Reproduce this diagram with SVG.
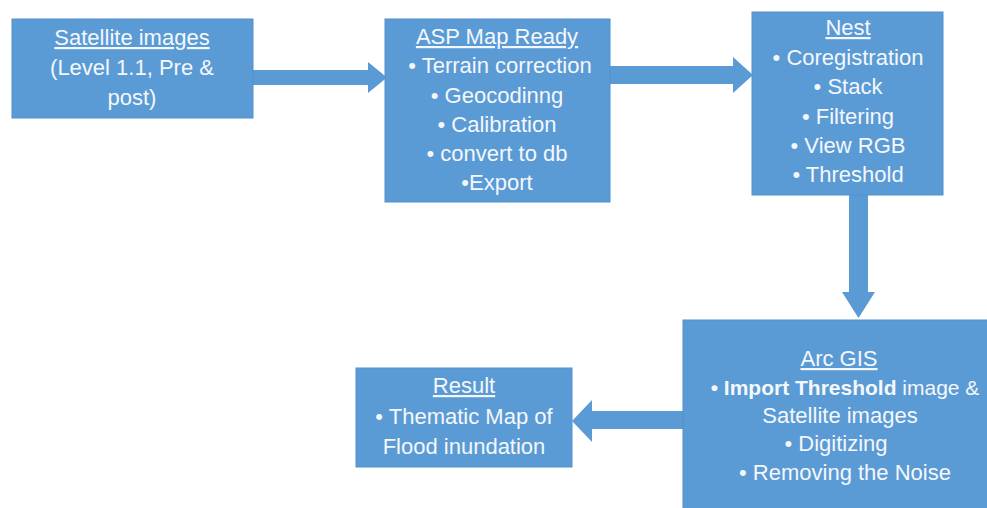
<svg xmlns="http://www.w3.org/2000/svg" width="987" height="508" viewBox="0 0 987 508">
<style>
.box{fill:#5b9bd5;stroke:#5290cc;stroke-width:1}
.arr{fill:#5b9bd5}
text{font-family:"Liberation Sans",Arial,sans-serif;font-size:22px;fill:#f4f7fb;text-anchor:middle}
.u{text-decoration:underline}
.b{font-weight:bold}
</style>
<rect width="987" height="508" fill="#ffffff"/>
<g id="connectors">
<polygon class="arr" points="253,70 368,70 368,62 387,77.5 368,93 368,85 253,85"/>
<polygon class="arr" points="610,66 733,66 733,57 753,75 733,93 733,84 610,84"/>
<polygon class="arr" points="849,195 868,195 868,292 875,292 858.5,318 842,292 849,292"/>
<polygon class="arr" points="683,411 592,411 592,400 572,421 592,442 592,429 683,429"/>
</g>
<g id="satellite">
<rect class="box" x="12" y="19" width="241" height="99"/>
<text x="132" y="45"><tspan class="u">Satellite images</tspan></text>
<text x="132" y="75">(Level 1.1, Pre &amp;</text>
<text x="132" y="105">post)</text>
</g>
<g id="asp">
<rect class="box" x="385" y="19" width="225" height="183"/>
<text x="497" y="44"><tspan class="u">ASP Map Ready</tspan></text>
<text x="500" y="73">• Terrain correction</text>
<text x="497" y="103">• Geocodinng</text>
<text x="497" y="132">• Calibration</text>
<text x="497" y="161">• convert to db</text>
<text x="497" y="190">•Export</text>
</g>
<g id="nest">
<rect class="box" x="752" y="12" width="191" height="183"/>
<text x="848" y="35"><tspan class="u">Nest</tspan></text>
<text x="848" y="65">• Coregistration</text>
<text x="848" y="94">• Stack</text>
<text x="848" y="124">• Filtering</text>
<text x="848" y="153">• View RGB</text>
<text x="848" y="182">• Threshold</text>
</g>
<g id="arcgis">
<rect class="box" x="683" y="320" width="310" height="195"/>
<text x="839" y="366"><tspan class="u">Arc GIS</tspan></text>
<text x="845" y="395" style="font-size:21px"><tspan class="b">• Import Threshold</tspan> image &amp;</text>
<text x="840" y="423">Satellite images</text>
<text x="836" y="451">• Digitizing</text>
<text x="845" y="480">• Removing the Noise</text>
</g>
<g id="result">
<rect class="box" x="356" y="368" width="216" height="99"/>
<text x="464" y="393"><tspan class="u">Result</tspan></text>
<text x="464" y="424">• Thematic Map of</text>
<text x="464" y="454">Flood inundation</text>
</g>
</svg>
